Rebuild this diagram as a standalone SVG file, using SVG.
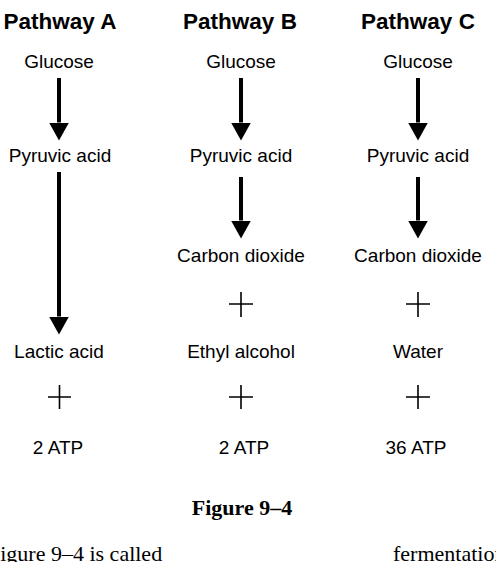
<svg xmlns="http://www.w3.org/2000/svg" width="496" height="562" viewBox="0 0 496 562">
<defs>
<style>
.t{font-family:"Liberation Sans",Arial,sans-serif;font-size:19px;fill:#000;text-anchor:middle}
.h{font-family:"Liberation Sans",Arial,sans-serif;font-size:22.5px;font-weight:bold;fill:#000;text-anchor:middle}
.f{font-family:"Liberation Serif","Times New Roman",serif;font-size:22px;fill:#000}
.sh{stroke:#000;stroke-width:4;fill:none}
.pl{stroke:#000;stroke-width:1.6;fill:none}
</style>
<marker id="ah" viewBox="0 0 18 20" refX="0" refY="10" markerWidth="18" markerHeight="20" markerUnits="userSpaceOnUse" orient="auto">
<path d="M0,0 L18,10 L0,20 Z" fill="#000"/>
</marker>
</defs>
<rect width="496" height="562" fill="#fff"/>
<g id="pathwayA">
<text class="h" x="60" y="29">Pathway A</text>
<text id="a-glucose" class="t" x="59" y="68">Glucose</text>
<text id="a-pyruvic" class="t" x="60" y="162">Pyruvic acid</text>
<text id="a-lactic" class="t" x="59" y="358">Lactic acid</text>
<text id="a-atp" class="t" x="58" y="454">2 ATP</text>
</g>
<g id="pathwayB">
<text class="h" x="240" y="29">Pathway B</text>
<text id="b-glucose" class="t" x="241" y="68">Glucose</text>
<text id="b-pyruvic" class="t" x="241" y="162">Pyruvic acid</text>
<text id="b-co2" class="t" x="241" y="262">Carbon dioxide</text>
<text id="b-ethyl" class="t" x="241" y="358">Ethyl alcohol</text>
<text id="b-atp" class="t" x="244" y="454">2 ATP</text>
</g>
<g id="pathwayC">
<text class="h" x="418" y="29">Pathway C</text>
<text id="c-glucose" class="t" x="418" y="68">Glucose</text>
<text id="c-pyruvic" class="t" x="418" y="162">Pyruvic acid</text>
<text id="c-co2" class="t" x="418" y="262">Carbon dioxide</text>
<text id="c-water" class="t" x="418" y="358">Water</text>
<text id="c-atp" class="t" x="416" y="454">36 ATP</text>
</g>
<g id="connectors">
<line class="sh" x1="59" y1="78" x2="59" y2="122.5" marker-end="url(#ah)"/>
<line class="sh" x1="59" y1="172" x2="59" y2="316.5" marker-end="url(#ah)"/>
<line class="sh" x1="241" y1="78" x2="241" y2="122.5" marker-end="url(#ah)"/>
<line class="sh" x1="241" y1="177" x2="241" y2="220.5" marker-end="url(#ah)"/>
<line class="sh" x1="418" y1="78" x2="418" y2="122.5" marker-end="url(#ah)"/>
<line class="sh" x1="418" y1="177" x2="418" y2="220.5" marker-end="url(#ah)"/>
</g>
<g id="plus-signs">
<path class="pl" d="M229,304 H253 M241,292 V317"/>
<path class="pl" d="M406,304 H430 M418,292 V317"/>
<path class="pl" d="M48,397 H71 M59.5,385 V409"/>
<path class="pl" d="M229,397 H253 M241,385 V409"/>
<path class="pl" d="M406,397 H430 M418,385 V409"/>
</g>
<g id="caption">
<text x="242" y="515" style="font-family:'Liberation Serif','Times New Roman',serif;font-size:22px;font-weight:bold;text-anchor:middle">Figure 9–4</text>
<text class="f" x="-12" y="561">Figure 9–4 is called</text>
<text class="f" x="393" y="561">fermentation</text>
</g>
</svg>
